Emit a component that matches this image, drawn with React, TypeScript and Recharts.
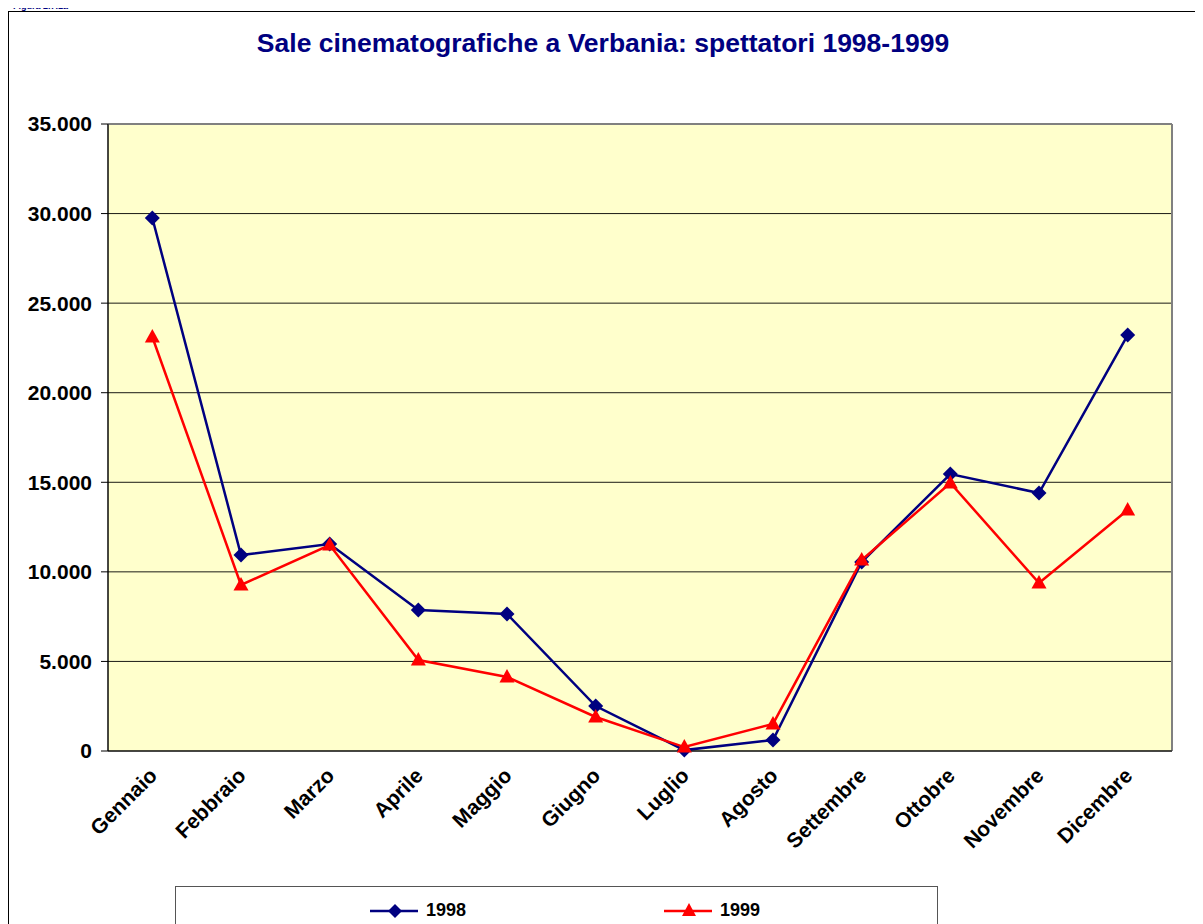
import React from 'react';
import { LineChart, Line, XAxis, YAxis, CartesianGrid, ReferenceLine } from 'recharts';

const months = ['Gennaio', 'Febbraio', 'Marzo', 'Aprile', 'Maggio', 'Giugno', 'Luglio', 'Agosto', 'Settembre', 'Ottobre', 'Novembre', 'Dicembre'];
const spettatori1998 = [29750, 10940, 11550, 7870, 7650, 2510, 50, 610, 10550, 15460, 14400, 23220];
const spettatori1999 = [23110, 9270, 11500, 5080, 4130, 1900, 220, 1510, 10660, 14960, 9380, 13450];
const yTicks = [0, 5000, 10000, 15000, 20000, 25000, 30000, 35000];
const gridTicks = [0, 1, 2, 3, 4, 5, 6, 7, 8, 9, 10, 11, 12];
const labelTicks = months.map((_, i) => i + 0.5);

const data = months.map((m, i) => ({ x: i + 0.5, month: m, y1998: spettatori1998[i], y1999: spettatori1999[i] }));

const NAVY = '#000080';
const RED = '#FF0000';
const FONT = 'Arial, "Liberation Sans", Helvetica, sans-serif';

const fmt = (v: number) => String(v).replace(/\B(?=(\d{3})+(?!\d))/g, '.');

const Diamond = (props: any) => {
  const { cx, cy, index } = props;
  if (cx == null || cy == null) return null;
  return <path key={`d-${index}`} d={`M${cx},${cy - 7.5}L${cx + 7.5},${cy}L${cx},${cy + 7.5}L${cx - 7.5},${cy}Z`} fill={NAVY} />;
};

const Triangle = (props: any) => {
  const { cx, cy, index } = props;
  if (cx == null || cy == null) return null;
  return <path key={`t-${index}`} d={`M${cx},${cy - 8}L${cx + 7.5},${cy + 5.5}L${cx - 7.5},${cy + 5.5}Z`} fill={RED} />;
};

const MonthTick = (props: any) => {
  const { x, y, payload } = props;
  const idx = Math.round(payload.value - 0.5);
  const tx = x + 6;
  const ty = y + 19;
  return (
    <text x={tx} y={ty} textAnchor="end" transform={`rotate(-45, ${tx}, ${ty})`} fontFamily={FONT} fontWeight="bold" fontSize={21} fill="#000">
      {months[idx]}
    </text>
  );
};

const LegendItem = ({ color, label, triangle }: { color: string; label: string; triangle?: boolean }) => (
  <div style={{ display: 'flex', alignItems: 'center' }}>
    <svg width={50} height={16}>
      <line x1={0} y1={8} x2={48} y2={8} stroke={color} strokeWidth={2.5} />
      {triangle ? <path d="M25,0L32,13L18,13Z" fill={color} /> : <path d="M25,1L32,8L25,15L18,8Z" fill={color} />}
    </svg>
    <span style={{ marginLeft: 6, fontFamily: FONT, fontWeight: 'bold', fontSize: 18, color: '#000' }}>{label}</span>
  </div>
);

export default function App() {
  return (
    <div style={{ position: 'relative', width: 1196, height: 916, marginTop: 3, border: '1px solid #000', boxSizing: 'border-box', background: '#fff' }}>
      <div style={{ position: 'absolute', left: 4, top: -11, fontFamily: FONT, fontWeight: 'bold', fontSize: 9, color: NAVY, lineHeight: '10px' }}>
        Figura 2.7.1a
      </div>
      <div style={{ position: 'absolute', left: 0, width: 1188, top: 16, textAlign: 'center', fontFamily: FONT, fontWeight: 'bold', fontSize: 26.5, color: NAVY }}>
        Sale cinematografiche a Verbania: spettatori 1998-1999
      </div>
      <LineChart width={1194} height={913} data={data} margin={{ top: 112, right: 31, left: 0, bottom: 57 }}>
        <CartesianGrid xAxisId="g" fill="#FFFFCC" stroke="#000" strokeOpacity={0.9} />
        <XAxis xAxisId="g" dataKey="x" type="number" domain={[0, 12]} ticks={gridTicks} tick={false} tickSize={7} height={7} axisLine={{ stroke: '#000' }} tickLine={{ stroke: '#000' }} />
        <XAxis xAxisId="m" dataKey="x" type="number" domain={[0, 12]} ticks={labelTicks} tick={<MonthTick />} tickSize={0} tickMargin={0} height={110} axisLine={false} tickLine={false} interval={0} />
        <YAxis domain={[0, 35000]} ticks={yTicks} tickFormatter={fmt} width={99} tickSize={7} tickMargin={9} interval={0} axisLine={{ stroke: '#000' }} tickLine={{ stroke: '#000' }} tick={{ fontFamily: FONT, fontWeight: 'bold', fontSize: 21, fill: '#000' }} />
        <ReferenceLine xAxisId="g" y={35000} stroke="#808080" strokeWidth={2} />
        <ReferenceLine xAxisId="g" x={12} stroke="#808080" strokeWidth={2} />
        <Line xAxisId="g" type="linear" dataKey="y1998" stroke={NAVY} strokeWidth={2.5} dot={<Diamond />} activeDot={false} isAnimationActive={false} />
        <Line xAxisId="g" type="linear" dataKey="y1999" stroke={RED} strokeWidth={2.5} dot={<Triangle />} activeDot={false} isAnimationActive={false} />
      </LineChart>
      <div style={{ position: 'absolute', left: 166, top: 874, width: 763, height: 50, border: '1px solid #555', boxSizing: 'border-box', background: '#fff', paddingTop: 13 }}>
        <div style={{ position: 'absolute', left: 194 }}><LegendItem color={NAVY} label="1998" /></div>
        <div style={{ position: 'absolute', left: 488 }}><LegendItem color={RED} label="1999" triangle /></div>
      </div>
    </div>
  );
}
